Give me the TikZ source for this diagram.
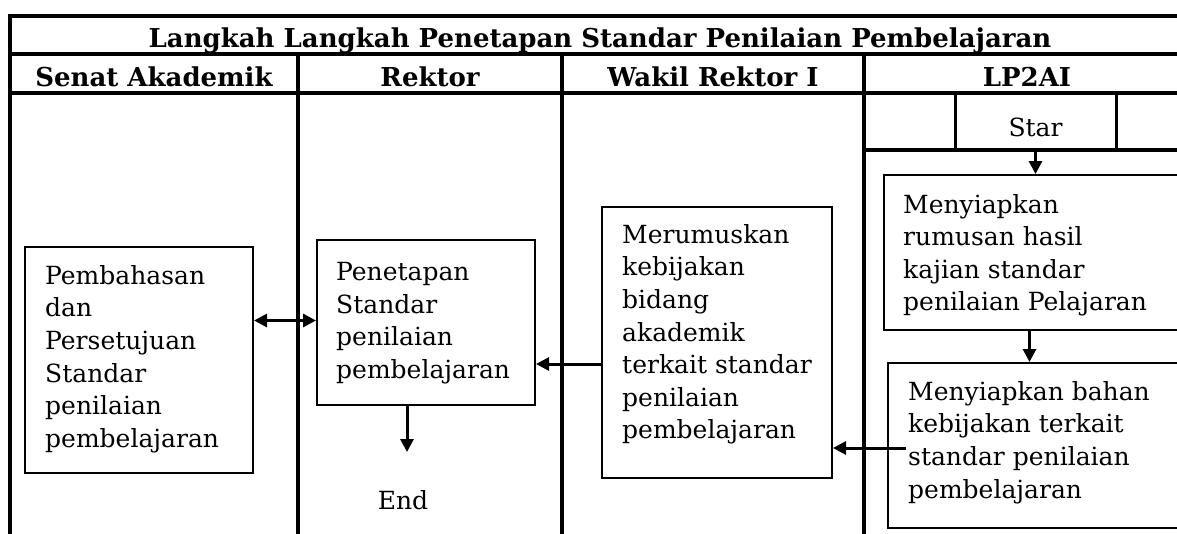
\documentclass[tikz,border=0pt]{standalone}
\usepackage{fontspec}
\setmainfont{DejaVu Serif}
\usetikzlibrary{arrows.meta}
\tikzset{
  tbl/.style={line width=3.2pt},
  box/.style={draw, line width=2pt, inner sep=0pt},
  body/.style={inner sep=0pt, align=left, anchor=north west, font=\fontsize{25}{32.6}\selectfont},
  head/.style={inner sep=0pt, anchor=base, font=\fontsize{26}{30}\selectfont\bfseries},
  arr/.style={line width=3pt, -{Triangle[length=13pt,width=13pt]}},
  darr/.style={line width=3pt, {Triangle[length=13pt,width=13pt]}-{Triangle[length=13pt,width=13pt]}}
}
\begin{document}
\begin{tikzpicture}[x=1pt,y=-1pt]
\clip (0,0) rectangle (1177,533);
\fill[white] (0,0) rectangle (1177,533);
% table frame
\draw[tbl] (10,545) -- (10,16) -- (1195,16);
\draw[tbl] (10,54) -- (1195,54);
\draw[tbl] (10,93) -- (1195,93);
\draw[tbl] (298,54) -- (298,545);
\draw[tbl] (562,54) -- (562,545);
\draw[tbl] (864,54) -- (864,545);
\draw[tbl] (864,150) -- (1195,150);
% headings
\node[head] (title) at (600,47) {Langkah Langkah Penetapan Standar Penilaian Pembelajaran};
\node[head] (hsenat) at (154,86) {Senat Akademik};
\node[head] (hrektor) at (430,86) {Rektor};
\node[head] (hwakil) at (713,86) {Wakil Rektor I};
\node[head] (hlp) at (1027,86) {LP2AI};
% start cell
\node[draw, line width=3pt, minimum width=161pt, minimum height=57pt, inner sep=0pt,
      text height=29pt, text depth=0pt, font=\fontsize{25}{30}\selectfont] (star) at (1035.5,121.5) {Star};
% boxes
\node[box, minimum width=228pt, minimum height=226pt] (senat) at (139,360) {};
\node[body] (tsenat) at (45,265) {Pembahasan\\dan\\Persetujuan\\Standar\\penilaian\\pembelajaran};
\node[box, minimum width=218pt, minimum height=165pt] (rektor) at (426,322.5) {};
\node[body] (trektor) at (336,262) {Penetapan\\Standar\\penilaian\\pembelajaran};
\node[box, minimum width=230pt, minimum height=271pt] (wakil) at (717,342.5) {};
\node[body] (twakil) at (622,224) {Merumuskan\\kebijakan\\bidang\\akademik\\terkait standar\\penilaian\\pembelajaran};
\node[box, minimum width=306pt, minimum height=155pt] (box1) at (1037,252.5) {};
\node[body] (tbox1) at (903,194) {Menyiapkan\\rumusan hasil\\kajian standar\\penilaian Pelajaran};
\node[box, minimum width=302pt, minimum height=165pt] (box2) at (1039,445.5) {};
\node[body] (tbox2) at (908,381) {Menyiapkan bahan\\kebijakan terkait\\standar penilaian\\pembelajaran};
\node[inner sep=0pt, anchor=base, font=\fontsize{25}{30}\selectfont] (endtxt) at (403,509) {End};
\coordinate (endtip) at (407,452);
% connectors
\draw[arr] (star.south) -- (star.south |- box1.north);
\draw[arr] ([xshift=-6pt]star.south |- box1.south) -- ([xshift=-6pt]star.south |- box2.north);
\draw[arr] ([xshift=19pt,yshift=-2.5pt]box2.west) -- ([yshift=-2.5pt]box2.west -| wakil.east);
\draw[arr] ([yshift=-21.5pt]wakil.west) -- ([yshift=-21.5pt]wakil.west -| rektor.east);
\draw[darr] ([yshift=2pt]rektor.west) -- ([yshift=2pt]rektor.west -| senat.east);
\draw[arr] (endtip |- rektor.south) -- (endtip);
\end{tikzpicture}
\end{document}
